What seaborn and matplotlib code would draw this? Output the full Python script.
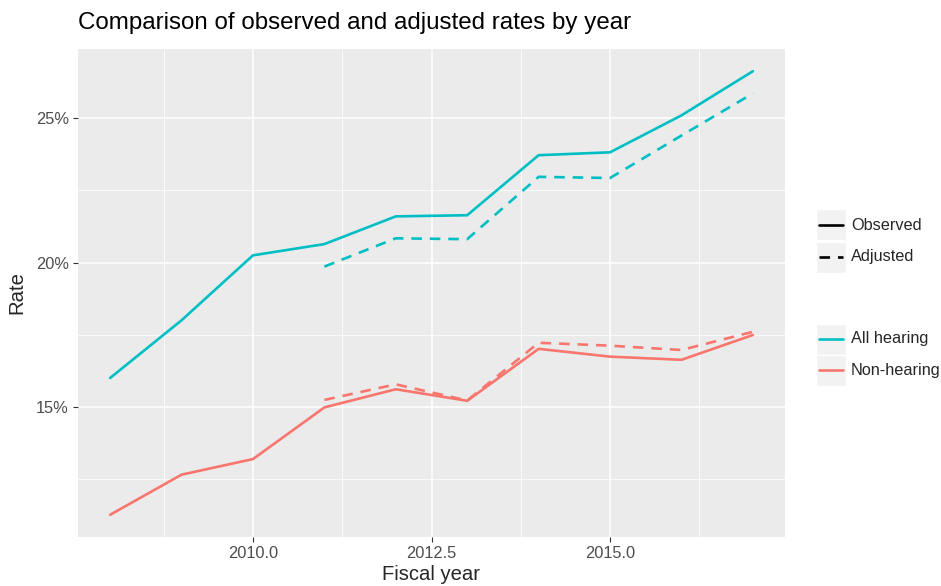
import matplotlib
matplotlib.use("Agg")
import matplotlib.pyplot as plt
import seaborn as sns
import pandas as pd
from matplotlib.lines import Line2D
from matplotlib.patches import Rectangle
from matplotlib.ticker import FuncFormatter, FixedLocator

# ---- data (rates in percent) ----
years = [2008, 2009, 2010, 2011, 2012, 2013, 2014, 2015, 2016, 2017]
all_observed = [16.0, 18.0, 20.25, 20.64, 21.6, 21.64, 23.72, 23.82, 25.1, 26.63]
non_observed = [11.26, 12.65, 13.19, 14.98, 15.61, 15.21, 17.01, 16.74, 16.63, 17.49]
adj_years = [2011, 2012, 2013, 2014, 2015, 2016, 2017]
all_adjusted = [19.86, 20.84, 20.81, 22.97, 22.93, 24.4, 25.86]
non_adjusted = [15.24, 15.78, 15.22, 17.22, 17.12, 16.97, 17.6]

groups = ["All hearing", "Non-hearing"]
measures = ["Observed", "Adjusted"]
colors = ["#00BFC4", "#F8766D"]
title = "Comparison of observed and adjusted rates by year"

rows = []
for y, a, n in zip(years, all_observed, non_observed):
    rows.append((y, a, "All hearing", "Observed"))
    rows.append((y, n, "Non-hearing", "Observed"))
for y, a, n in zip(adj_years, all_adjusted, non_adjusted):
    rows.append((y, a, "All hearing", "Adjusted"))
    rows.append((y, n, "Non-hearing", "Adjusted"))
df = pd.DataFrame(rows, columns=["year", "rate", "group", "measure"])

sns.set_theme(style="darkgrid", rc={"axes.facecolor": "#EBEBEB", "grid.color": "white"})
plt.rcParams["font.family"] = ["Liberation Sans", "DejaVu Sans"]

W, H = 941, 586
fig = plt.figure(figsize=(W / 100, H / 100), dpi=100)
fig.patch.set_facecolor("white")
L, R, T, B = 78, 785, 49, 537
ax = fig.add_axes([L / W, 1 - B / H, (R - L) / W, (B - T) / H])

sns.lineplot(data=df, x="year", y="rate", hue="group", style="measure",
             hue_order=groups, style_order=measures, palette=colors,
             dashes={"Observed": "", "Adjusted": (4, 3)},
             linewidth=1.9, errorbar=None, legend=False, ax=ax)

ax.set_xlim(2007.55, 2017.45)
ax.set_ylim(10.49, 27.4)
ax.xaxis.set_major_locator(FixedLocator([2010.0, 2012.5, 2015.0]))
ax.xaxis.set_minor_locator(FixedLocator([2008.75, 2011.25, 2013.75, 2016.25]))
ax.yaxis.set_major_locator(FixedLocator([15, 20, 25]))
ax.yaxis.set_minor_locator(FixedLocator([12.5, 17.5, 22.5]))
ax.xaxis.set_major_formatter(FuncFormatter(lambda v, p: f"{v:.1f}"))
ax.yaxis.set_major_formatter(FuncFormatter(lambda v, p: f"{v:.0f}%"))
ax.grid(which="major", color="white", linewidth=1.1)
ax.grid(which="minor", color="white", linewidth=0.55)
ax.tick_params(which="major", length=3.5, width=0.8, color="#333333",
               labelcolor="#4D4D4D", labelsize=11.8, pad=3, bottom=True, left=True)
ax.tick_params(which="minor", length=0)
for s in ax.spines.values():
    s.set_visible(False)
ax.set_xlabel("")
ax.set_ylabel("")

fig.text(L / W, 1 - 23 / H, title, fontsize=17.4, ha="left", va="center", color="black")
fig.text((L + R) / 2 / W, 1 - 575 / H, "Fiscal year", fontsize=14.6, ha="center", va="center")
fig.text(17 / W, 1 - 293 / H, "Rate", fontsize=14.6, ha="center", va="center", rotation=90)

# ---- legends (drawn in figure pixel space) ----
def px(x, y):
    return x / W, 1 - y / H

def key(yc, color, dash):
    x0, y0 = px(816, yc + 15.5)
    fig.patches.append(Rectangle((x0, y0), 30 / W, 31 / H, transform=fig.transFigure,
                                 facecolor="#F2F2F2", edgecolor="white", linewidth=1))
    xa, ya = px(819, yc)
    xb, _ = px(843, yc)
    ln = Line2D([xa, xb], [ya, ya], transform=fig.transFigure, color=color, linewidth=1.9)
    if dash:
        ln.set_dashes((4, 3))
    fig.lines.append(ln)

for yc, lab, dash in [(225, "Observed", False), (257, "Adjusted", True)]:
    key(yc, "black", dash)
    fig.text(*px(851, yc), lab, fontsize=11.7, ha="left", va="center")
for yc, lab, col in [(339, "All hearing", colors[0]), (370, "Non-hearing", colors[1])]:
    key(yc, col, False)
    fig.text(*px(851, yc), lab, fontsize=11.7, ha="left", va="center")

fig.savefig("out.png", dpi=100)
